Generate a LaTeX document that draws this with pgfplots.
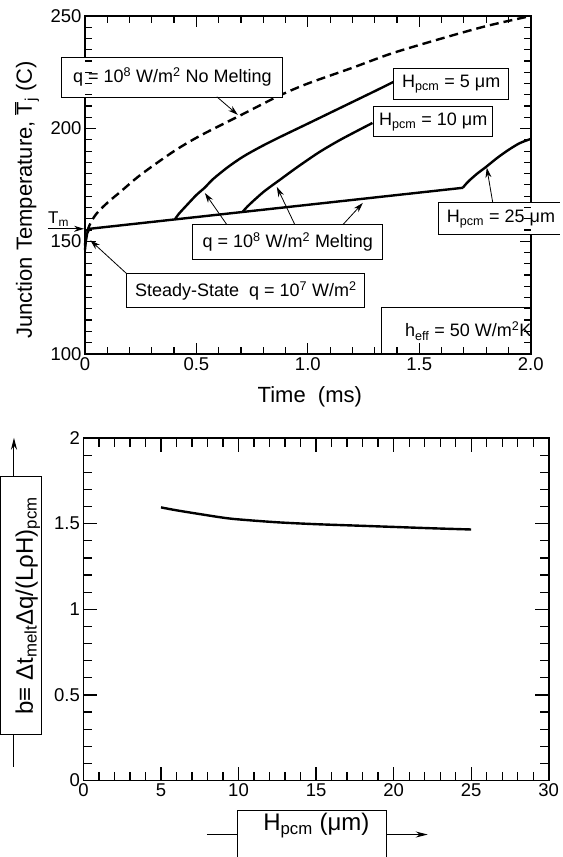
\documentclass[border=0pt]{standalone}
\usepackage{fontspec}
\setmainfont{Liberation Sans}
\usepackage{pgfplots}
\pgfplotsset{compat=1.18}
\usetikzlibrary{arrows.meta}
\newcommand{\sz}[1]{\fontsize{#1}{#1}\selectfont}
\tikzset{
  annbox/.style={draw, line width=1pt, fill=white, inner sep=0pt, font=\sz{18}},
  annarr/.style={line width=0.8pt, -{Stealth[length=10pt,width=6pt]}},
  tk/.style={line width=1.2pt, black}}
\begin{document}
\begin{tikzpicture}
\path (0pt,0pt) rectangle (560pt,857pt);
% ---------------- top axis ----------------
\begin{axis}[
  at={(85pt,503pt)}, anchor=south west, width=446pt, height=338pt, scale only axis,
  xmin=0, xmax=2, ymin=100, ymax=250,
  xtick={0,0.5,1,1.5,2}, xticklabels={0,0.5,1.0,1.5,2.0},
  ytick={100,150,200,250}, yticklabels={100,150,200,250},
  minor x tick num=4, minor y tick num=9,
  tick align=inside, major tick length=11pt, minor tick length=7pt,
  axis line style={line width=1.8pt},
  tick style={line width=1.2pt, black},
  ticklabel style={font=\sz{18.5}},
  clip=false,
]
% no melting (dashed)
\addplot[black, line width=2.4pt, dash pattern=on 9pt off 5pt, smooth] coordinates {
 (0,148) (0.005,152) (0.02,157) (0.05,162) (0.1,167) (0.16,172) (0.25,179.5)
 (0.4,190) (0.52,197) (0.69,205.5) (0.87,214.5) (1.0,220) (1.2,227) (1.38,233.5)
 (1.6,240) (1.8,245.5) (2.0,250)};
% melting line
\addplot[black, line width=2.4pt] coordinates {
 (0,146) (0.004,150) (0.01,153.5) (0.02,155.5) (1.695,173.7)};
% H = 5
\addplot[black, line width=2.4pt, smooth] coordinates {
 (0.404,159.7) (0.42,162) (0.457,166) (0.5,170.5) (0.54,174) (0.574,177.5)
 (0.64,182.8) (0.709,187.5) (0.79,192) (0.874,196.2) (1.0,202.2) (1.1,207)
 (1.2,211.8) (1.3,216.6) (1.39,221)};
% H = 10
\addplot[black, line width=2.4pt, smooth] coordinates {
 (0.709,163.2) (0.729,165.4) (0.759,168.2) (0.799,171.7) (0.839,174.7)
 (0.874,177.2) (0.929,181.2) (0.979,184.7) (1.054,189.7) (1.149,195.2) (1.29,202.5)};
% H = 25
\addplot[black, line width=2.4pt, smooth] coordinates {
 (1.695,173.7) (1.72,176.5) (1.76,180) (1.80,183) (1.85,187) (1.9,190.5)
 (1.95,193.5) (2.0,195.4)};
% annotations
\node[annbox, minimum width=221pt, minimum height=40pt] at (axis cs:0.392,222.9)
  {q = 10\textsuperscript{8} W/m\textsuperscript{2} No Melting};
\draw[annarr] (axis cs:0.592,214.1) -- (axis cs:0.686,206.1);
\node[annbox, minimum width=115pt, minimum height=32pt] at (axis cs:1.6435,219.8)
  {H\textsubscript{pcm} = 5 μm};
\node[annbox, minimum width=119pt, minimum height=30pt] at (axis cs:1.5628,203.0)
  {H\textsubscript{pcm} = 10 μm};
\fill[white] (axis cs:1.587,152.8) rectangle (axis cs:2.13,167.0);
\draw[line width=1pt] (axis cs:2.13,167.0) -- (axis cs:1.587,167.0)
  -- (axis cs:1.587,152.8) -- (axis cs:2.13,152.8);
\node[font=\sz{18}, anchor=west, inner sep=0pt] at (axis cs:1.623,159.9)
  {H\textsubscript{pcm} = 25 μm};
\draw[annarr] (axis cs:1.830,167.0) -- (axis cs:1.803,182.6);
\node[annbox, minimum width=190pt, minimum height=35pt] at (axis cs:0.910,149.5)
  {q = 10\textsuperscript{8} W/m\textsuperscript{2} Melting};
\draw[annarr] (axis cs:0.637,157.3) -- (axis cs:0.538,171.4);
\draw[annarr] (axis cs:0.942,157.3) -- (axis cs:0.861,174.1);
\draw[annarr] (axis cs:1.157,157.3) -- (axis cs:1.247,167.0);
\node[annbox, minimum width=238pt, minimum height=34pt] at (axis cs:0.722,128.0)
  {Steady-State\ \ q = 10\textsuperscript{7} W/m\textsuperscript{2}};
\draw[annarr] (axis cs:0.188,135.5) -- (axis cs:0.024,150.4);
\node[annbox, minimum width=149pt, minimum height=46pt, anchor=south east] at (axis cs:2,100) {};
\node[font=\sz{18}, anchor=base east, inner sep=0pt] at (axis cs:2.004,107.5)
  {h\textsubscript{eff} = 50 W/m\textsuperscript{2}K};
\draw[annarr] (axis cs:-0.166,155.5) -- (axis cs:-0.004,155.5);
\node[font=\sz{17}, anchor=base west, inner sep=0pt] at (axis cs:-0.166,157.8)
  {T\textsubscript{m}};
\end{axis}
% ---------------- bottom axis ----------------
\begin{axis}[
  at={(83.5pt,76pt)}, anchor=south west, width=465.5pt, height=342.7pt, scale only axis,
  xmin=0, xmax=30, ymin=0, ymax=2,
  xtick={0,5,10,15,20,25,30}, xticklabels={0,5,10,15,20,25,30},
  ytick={0,0.5,1,1.5,2}, yticklabels={0,0.5,1,1.5,2},
  minor x tick num=4, minor y tick num=4,
  tick align=inside, major tick length=14pt, minor tick length=9pt,
  axis line style={line width=1.8pt},
  tick style={line width=1.2pt, black},
  ticklabel style={font=\sz{18.5}},
  clip=false,
]
\addplot[black, line width=2.4pt, smooth] coordinates {
 (5,1.595) (6,1.578) (7.5,1.556) (9,1.535) (10,1.525) (12.5,1.508) (15,1.497)
 (17.5,1.489) (20,1.481) (22.5,1.473) (25,1.466)};
\end{axis}
% ---------------- labels and tick marks ----------------
\begin{scope}[x=1pt, y=1pt]
% top axis ticks
\foreach \t in {0.1,0.2,0.3,0.4,0.6,0.7,0.8,0.9,1.1,1.2,1.3,1.4,1.6,1.7,1.8,1.9} {
  \draw[tk] ({85+223*\t},503) -- ++(0,7);
  \draw[tk] ({85+223*\t},841) -- ++(0,-7);}
\foreach \t in {0.5,1,1.5} {
  \draw[tk] ({85+223*\t},503) -- ++(0,11);
  \draw[tk] ({85+223*\t},841) -- ++(0,-11);}
\foreach \T in {105,110,...,245} {
  \draw[tk] (85,{503+2.25333*(\T-100)}) -- ++(7,0);
  \draw[tk] (531,{503+2.25333*(\T-100)}) -- ++(-7,0);}
\foreach \T in {150,200} {
  \draw[tk] (85,{503+2.25333*(\T-100)}) -- ++(11,0);
  \draw[tk] (531,{503+2.25333*(\T-100)}) -- ++(-11,0);}
% bottom axis ticks
\foreach \h in {1,...,29} {
  \draw[tk] ({83.5+15.5167*\h},76) -- ++(0,9);
  \draw[tk] ({83.5+15.5167*\h},418.7) -- ++(0,-9);}
\foreach \h in {5,10,15,20,25} {
  \draw[tk] ({83.5+15.5167*\h},76) -- ++(0,14);
  \draw[tk] ({83.5+15.5167*\h},418.7) -- ++(0,-14);}
\foreach \b in {0.1,0.2,0.3,0.4,0.6,0.7,0.8,0.9,1.1,1.2,1.3,1.4,1.6,1.7,1.8,1.9} {
  \draw[tk] (83.5,{76+171.35*\b}) -- ++(9,0);
  \draw[tk] (549,{76+171.35*\b}) -- ++(-9,0);}
\foreach \b in {0.5,1,1.5} {
  \draw[tk] (83.5,{76+171.35*\b}) -- ++(14,0);
  \draw[tk] (549,{76+171.35*\b}) -- ++(-14,0);}
% labels
\node[font=\sz{22}, rotate=90, anchor=base, inner sep=0pt] at (32,657)
  {Junction Temperature, $\overline{\mbox{T}}$\textsubscript{j} (C)};
\node[font=\sz{22}, anchor=base, inner sep=0pt] at (310,454) {Time\ \ (ms)};
% bottom y label box
\draw[line width=1pt] (0.5,122) rectangle (42,380);
\node[font=\sz{24}, rotate=90, anchor=base, inner sep=0pt] at (33,251)
  {b≡ Δt\textsubscript{melt}Δq/(LρH)\textsubscript{pcm}};
\draw[line width=1pt] (14,122) -- (14,90);
\draw[line width=1pt, -{Stealth[length=12pt,width=6pt]}] (14,380) -- (14,419);
% bottom x label box
\draw[line width=1pt] (238,0) -- (238,46) -- (387,46) -- (387,0);
\node[font=\sz{24}, anchor=base, inner sep=0pt] at (316.5,26)
  {H\textsubscript{pcm} (μm)};
\draw[line width=1pt] (207,22) -- (238,22);
\draw[line width=1pt, -{Stealth[length=12pt,width=6pt]}] (387,22) -- (428,22);
\end{scope}
\end{tikzpicture}
\end{document}
